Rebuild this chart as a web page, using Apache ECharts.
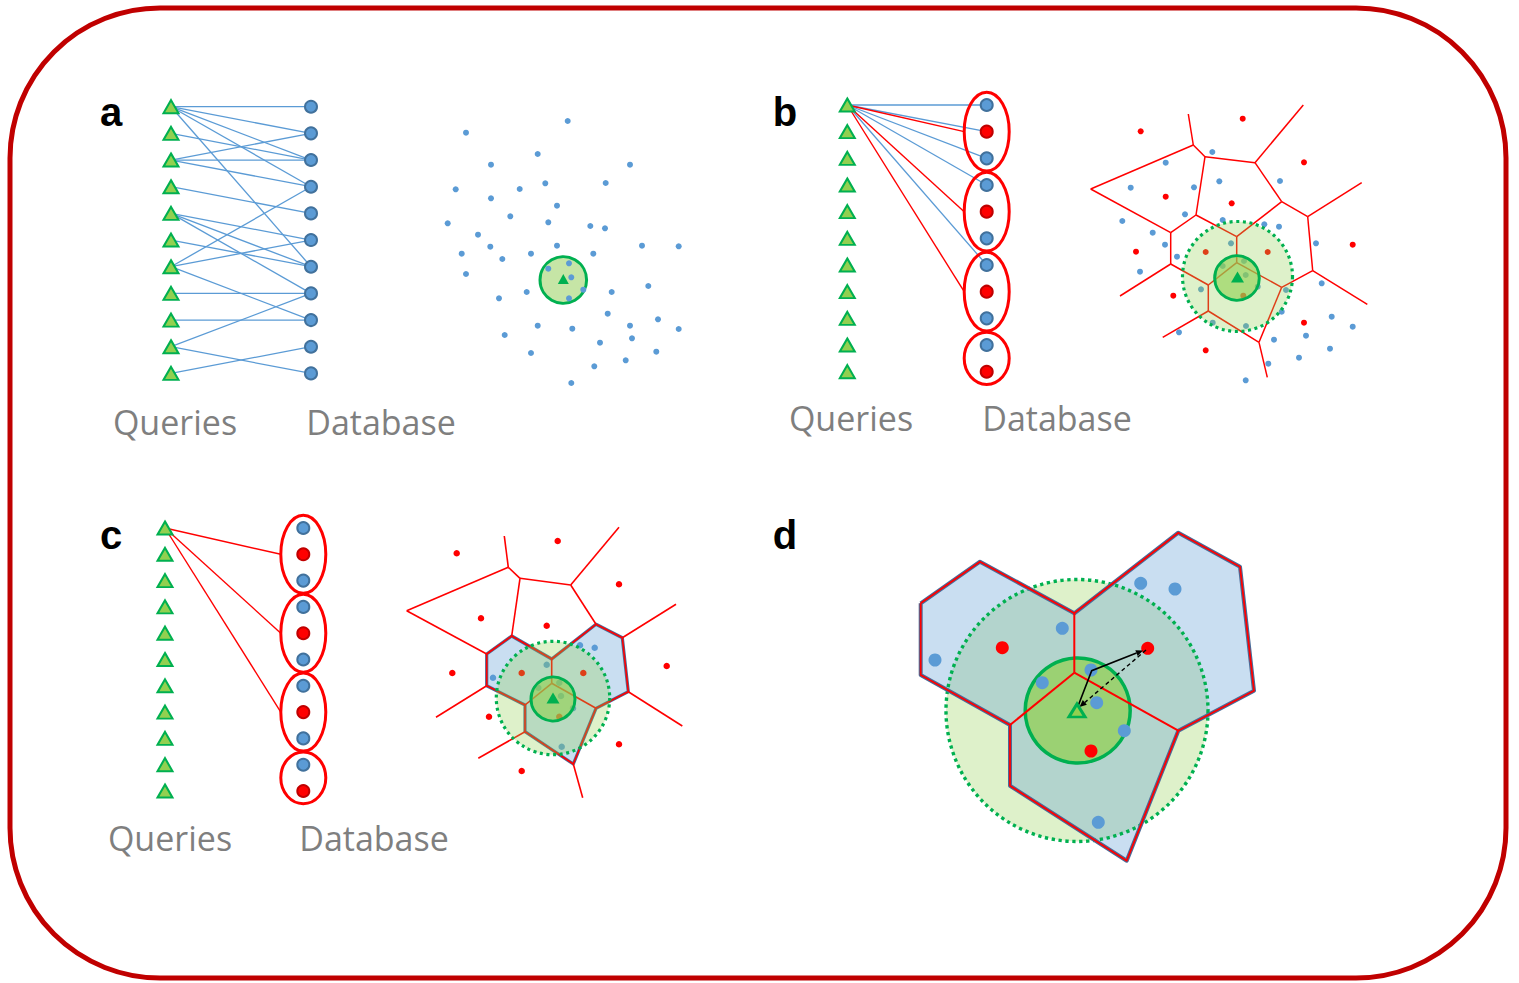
<!DOCTYPE html>
<html>
<head>
<meta charset="utf-8">
<script src="https://cdn.jsdelivr.net/npm/echarts@6/dist/echarts.min.js"></script>
<style>
  html, body { margin: 0; padding: 0; background: #ffffff; }
  #chart { width: 1519px; height: 983px; }
</style>
</head>
<body>
<div id="chart"></div>
<script>
// ---------------------------------------------------------------
// Data
// ---------------------------------------------------------------
const panelLetters = ['a', 'b', 'c', 'd'];
const columnNames = ['Queries', 'Database'];

// Panel a: each query row is linked to some database rows
const aRows = 11;
const aLinks = [[0,0],[0,1],[0,2],[0,3],[0,6],[1,2],[2,1],[2,2],[2,3],[3,4],[4,5],[4,6],[4,7],
                [5,6],[6,3],[6,5],[6,8],[7,7],[8,8],[9,7],[9,10],[10,9]];
// Panel a: database as a point cloud with one query and its search radius
const aCloud = [
  [567.7,121],[466,132.7],[537.7,154],[491,164.7],[630,164.7],[455.7,189.3],[519.7,189],[545.3,183.3],
  [605.7,183],[491,198.3],[557,205.7],[510.3,216.3],[447.7,223.3],[548.3,222.3],[590.3,226],[605,228.3],
  [478,234.7],[490.3,246.7],[557,245.7],[642,245.7],[678.7,246.3],[461.7,253.7],[502.3,259],[531,253.7],
  [593.3,253.7],[466,274],[548.3,268.7],[569,263.3],[571.3,277.3],[583.3,289.7],[569,298.3],[526.7,292],
  [499,298.3],[611.7,292],[648.3,286],[607.7,313.7],[537.7,325.7],[572.3,328.7],[630,325.7],[658,319.3],
  [678.7,329],[504.7,335],[600,342.7],[632,338.3],[531,353],[625.7,360.3],[656.3,351.7],[594.3,366.3],[571.3,383]
];
const aQuery = [563.3, 280];
const aRadius = 23.3;

// Panels b and c: database rows, 'r' = cluster representative, 'b' = member
const dbKinds = ['b','r','b','b','r','b','b','r','b','b','r'];
const dbGroups = [[0,2],[3,5],[6,8],[9,10]];
const bBlueLinks = [0,1,2,3,6];
const bGroupLinks = [0,1,2];
const cGroupLinks = [0,1,2];

// Voronoi vertices (panel b) and the shared edge topology
const bVertices = [
  [1188.3,114],[1193.3,145],[1205,156.7],[1255,162.7],[1303.3,105],[1090.7,189],[1196,215],[1170.7,232.7],
  [1236.7,236.7],[1281.7,201.7],[1307.7,216.7],[1361.7,182.7],[1170.7,264],[1120,296],[1236.7,262.7],
  [1208.3,285],[1281.7,287.3],[1312.7,270.7],[1367.3,304.3],[1208.3,311],[1162.7,337.3],[1259,342.3],[1267.3,377.3]
];
const cellEdges = [[0,1],[1,2],[1,5],[2,3],[3,4],[2,6],[3,9],[5,7],[7,6],[6,8],[8,9],[9,10],[10,11],[10,17],
                   [17,18],[17,16],[16,14],[8,14],[14,15],[15,12],[12,7],[12,13],[15,19],[19,20],[19,21],
                   [21,16],[21,22]];
const bRed = [
  [1140.7,131.3],[1242.7,118.7],[1304,162.3],[1165.7,196.7],[1231.7,203.3],[1136,251.7],[1205.7,252],
  [1267.7,252],[1352.7,244.7],[1173.3,295.7],[1243.3,295.7],[1304,322.7],[1205.7,350.3]
];
const bBlue = [
  [1212.3,152],[1165.7,162.7],[1130.7,187.7],[1194,187.3],[1219.3,181.3],[1280,181],[1122.3,221],[1152.7,232.7],
  [1185,214.3],[1222.7,220],[1264.3,224.3],[1279,226.7],[1165,244.7],[1177,256.7],[1140,271.7],[1231,243.3],
  [1222.7,266],[1244,261],[1245.7,275],[1257.7,286.7],[1201,289.3],[1286,290],[1316,243.3],[1321.7,283.3],
  [1281.7,311.7],[1212.7,322.7],[1246,326],[1179,332.3],[1274,339.7],[1331.7,316.7],[1352.7,326.7],[1306,335.7],
  [1330,348.7],[1299,357.7],[1268.3,363.7],[1245.7,380.3]
];
const bQuery = [1237.5, 278];
const bRadii = [55, 22.3];

// Panel c: same partition, three probed cells
const cVertices = [
  [504.3,536],[508.3,567.3],[520,578.3],[570.7,585],[619,527.3],[406.7,610.7],[511.7,636],[486.7,654],
  [551.7,659],[596,624.3],[622.3,637.7],[676,604.3],[486.7,685.7],[436,717.3],[551.7,683.3],[525,705],
  [596,708.3],[628.3,691.7],[682.3,726],[525,731.7],[478.3,758.3],[573.3,764],[582.7,797.7]
];
const cCells = [[7,6,8,14,15,12],[8,9,10,17,16,14],[15,14,16,21,19]];
const cBoundary = [7,6,8,9,10,17,16,21,19,15,12];
const cRed = [
  [456.7,553.3],[557.7,541],[619,584.3],[481,618.3],[546.7,625.7],[452.3,673],[521.7,673],[583.3,673],
  [666.7,666],[489,716.7],[559.3,716.7],[619,744.3],[521.7,771]
];
const cBlue = [
  [580,645.3],[594.7,647.7],[546.7,664.7],[493,677.7],[538.3,687.7],[559.3,682.7],[561,696],[573,708.3],[561.7,746.7]
];
const cQuery = [553, 699];
const cRadii = [56.7, 22];

// Panel d: close-up of the three probed cells
const dVertices = [
  [920.7,603.3],[980,561.7],[1074.3,613.3],[1074.3,672.7],[1010,725],[920.7,675],
  [1178.3,532.7],[1240,566.7],[1254,690.7],[1178.3,730.7],[1126.7,860.7],[1010,785.7]
];
const dCells = [[0,1,2,3,4,5],[2,6,7,8,9,3],[3,9,10,11,4]];
const dBoundary = [0,1,2,6,7,8,9,10,11,4,5];
const dInnerEdges = [[2,3],[3,4],[3,9]];
const dRed = [[1002.3,647.7],[1147.7,648.3],[1091,751]];
const dBlue = [
  [935,660],[1062.3,628.3],[1140.7,583.3],[1175,589],[1042.3,682.7],[1091,670],[1096.7,702.7],[1124.3,730.7],[1098.3,822.3]
];
const dQuery = [1077, 710.5];
const dRadii = [131, 52.5];
const dHopPath = [[1077.3,708],[1091.7,670.7],[1143,650.5]];
const dDirectPath = [[1146,650],[1079.5,707]];

// ---------------------------------------------------------------
// Layout and styles
// ---------------------------------------------------------------
const COLUMNS = {
  a: { qx: 171, dx: 311, y0: 106.7, dy: 26.67 },
  b: { qx: 847.3, dx: 986.7, y0: 105, dy: 26.67 },
  c: { qx: 165, dx: 303.3, y0: 528, dy: 26.3 }
};
const ELLIPSE_RX = 22.5, ELLIPSE_PAD = 12.7;
const BLUE = '#5b9bd5', BLUE_EDGE = '#41719c', RED = '#ff0000', RED_EDGE = '#c00000';
const GREEN = '#00b050', LIGHT_GREEN = '#92d050';
const OUTER_FILL = 'rgba(146,208,80,0.30)';
const INNER_FILL = 'rgba(146,208,80,0.62)';
const CELL_FILL = 'rgba(91,155,213,0.33)';

// ---------------------------------------------------------------
// Helpers
// ---------------------------------------------------------------
const rowY = (col, i) => col.y0 + i * col.dy;
const queryPts = (col, n) => Array.from({ length: n }, (_, i) => [col.qx, rowY(col, i)]);
const dbPts = (col, n) => Array.from({ length: n }, (_, i) => [col.dx, rowY(col, i)]);
const groupCenter = (col, g) => [col.dx, (rowY(col, g[0]) + rowY(col, g[1])) / 2];

function custom(z, data, build) {
  return {
    type: 'custom', coordinateSystem: 'cartesian2d', silent: true, clip: false, z,
    animation: false, data, renderItem: (params, api) => build(params.dataIndex, api)
  };
}
function segments(z, segs, style) {
  const data = segs.map(s => [s[0][0], s[0][1], s[1][0], s[1][1]]);
  const s = custom(z, data, (i, api) => {
    const p = api.coord([api.value(0), api.value(1)]);
    const q = api.coord([api.value(2), api.value(3)]);
    return { type: 'line', shape: { x1: p[0], y1: p[1], x2: q[0], y2: q[1] }, style: Object.assign({ fill: null }, style) };
  });
  s.dimensions = ['x1', 'y1', 'x2', 'y2'];
  s.encode = { x: [0, 2], y: [1, 3] };
  return s;
}
function ring(z, pts, style) {
  const closed = pts.concat([pts[0]]);
  return custom(z, [closed[0].slice()], (i, api) => ({
    type: 'polyline', shape: { points: closed.map(p => api.coord(p)) }, style: Object.assign({ fill: null }, style)
  }));
}
function polygons(z, polys, style) {
  const centroids = polys.map(p => [p.reduce((s, v) => s + v[0], 0) / p.length, p.reduce((s, v) => s + v[1], 0) / p.length]);
  return custom(z, centroids, (i, api) => ({
    type: 'polygon', shape: { points: polys[i].map(p => api.coord(p)) }, style: Object.assign({}, style)
  }));
}
function circles(z, list, style) {
  const s = custom(z, list, (i, api) => {
    const c = api.coord([api.value(0), api.value(1)]);
    const r = api.size([api.value(2), api.value(2)])[0];
    return { type: 'circle', shape: { cx: c[0], cy: c[1], r }, style: Object.assign({}, style) };
  });
  s.dimensions = ['x', 'y', 'r'];
  s.encode = { x: 0, y: 1 };
  return s;
}
function ellipses(z, col, groups, style) {
  const data = groups.map(g => {
    const c = groupCenter(col, g);
    return [c[0], c[1], (rowY(col, g[1]) - rowY(col, g[0])) / 2 + ELLIPSE_PAD];
  });
  const s = custom(z, data, (i, api) => {
    const c = api.coord([api.value(0), api.value(1)]);
    const ry = api.size([0, api.value(2)])[1];
    const rx = api.size([ELLIPSE_RX, 0])[0];
    return { type: 'ellipse', shape: { cx: c[0], cy: c[1], rx, ry }, style: Object.assign({ fill: null }, style) };
  });
  s.dimensions = ['x', 'y', 'ry'];
  s.encode = { x: 0, y: 1 };
  return s;
}
function arrow(z, path, style, head) {
  return custom(z, [path[0].slice()], (i, api) => {
    const pts = path.map(p => api.coord(p));
    const t = pts[pts.length - 1], f = pts[pts.length - 2];
    const len = Math.hypot(t[0] - f[0], t[1] - f[1]);
    const ux = (t[0] - f[0]) / len, uy = (t[1] - f[1]) / len;
    const bx = t[0] - ux * head, by = t[1] - uy * head, w = head * 0.45;
    const shaft = pts.slice(0, -1).concat([[bx, by]]);
    return {
      type: 'group', children: [
        { type: 'polyline', shape: { points: shaft }, style: Object.assign({ fill: null }, style) },
        { type: 'polygon', shape: { points: [t, [bx - uy * w, by + ux * w], [bx + uy * w, by - ux * w]] },
          style: { fill: style.stroke } }
      ]
    };
  });
}
function dots(z, pts, size, color, border, bw) {
  return {
    type: 'scatter', coordinateSystem: 'cartesian2d', silent: true, z, animation: false,
    symbol: 'circle', symbolSize: size, data: pts,
    itemStyle: { color, opacity: 1, borderColor: border || color, borderWidth: bw || 0 }
  };
}
function triangles(z, pts, size, fill, border, bw) {
  return {
    type: 'scatter', coordinateSystem: 'cartesian2d', silent: true, z, animation: false,
    symbol: 'triangle', symbolSize: size, data: pts,
    itemStyle: { color: fill, opacity: 1, borderColor: border, borderWidth: bw }
  };
}
function dbColumn(z, col, kinds) {
  const pts = dbPts(col, kinds.length);
  return [
    dots(z, pts.filter((p, i) => kinds[i] === 'b'), 12, BLUE, BLUE_EDGE, 2),
    dots(z, pts.filter((p, i) => kinds[i] === 'r'), 12, RED, RED_EDGE, 2)
  ];
}
const cellSegs = (verts, edges) => edges.map(e => [verts[e[0]], verts[e[1]]]);

// ---------------------------------------------------------------
// Series
// ---------------------------------------------------------------
const series = [];
const Q_SIZE = [15, 13];

// panel a: bipartite links
{
  const col = COLUMNS.a, qs = queryPts(col, aRows), ds = dbPts(col, aRows);
  series.push(segments(2, aLinks.map(l => [qs[l[0]], ds[l[1]]]), { stroke: BLUE, lineWidth: 1.3 }));
  series.push(triangles(4, qs, Q_SIZE, LIGHT_GREEN, GREEN, 2));
  series.push(dots(4, ds, 12, BLUE, BLUE_EDGE, 2));
  // point cloud
  series.push(circles(2, [[aQuery[0], aQuery[1], aRadius]], { fill: '#c6e5a6', stroke: GREEN, lineWidth: 3 }));
  series.push(dots(3, aCloud, 6, BLUE));
  series.push(triangles(4, [[aQuery[0], aQuery[1] - 1]], [11, 10], GREEN, GREEN, 0));
}

// panel b: links to members and to cluster groups
{
  const col = COLUMNS.b, qs = queryPts(col, dbKinds.length), ds = dbPts(col, dbKinds.length);
  series.push(segments(2, bBlueLinks.map(i => [qs[0], ds[i]]), { stroke: BLUE, lineWidth: 1.3 }));
  series.push(segments(2, bGroupLinks.map(g => {
    const c = groupCenter(col, dbGroups[g]);
    return [qs[0], [c[0] - ELLIPSE_RX, c[1]]];
  }), { stroke: RED, lineWidth: 1.4 }));
  series.push(ellipses(3, col, dbGroups, { stroke: RED, lineWidth: 3 }));
  series.push(...dbColumn(4, col, dbKinds));
  series.push(triangles(4, qs, Q_SIZE, LIGHT_GREEN, GREEN, 2));
  // partition
  series.push(segments(2, cellSegs(bVertices, cellEdges), { stroke: RED, lineWidth: 1.5 }));
  series.push(dots(3, bRed, 6, RED));
  series.push(dots(3, bBlue, 6, BLUE));
  series.push(circles(5, [[bQuery[0], bQuery[1] - 1.5, bRadii[0]]], { fill: OUTER_FILL, stroke: null }));
  series.push(circles(6, [[bQuery[0], bQuery[1] - 1.5, bRadii[0]]], { fill: null, stroke: GREEN, lineWidth: 3.2, lineDash: [3, 3.6] }));
  series.push(circles(6, [[bQuery[0] - 0.5, bQuery[1], bRadii[1]]], { fill: INNER_FILL, stroke: GREEN, lineWidth: 3 }));
  series.push(triangles(7, [[bQuery[0], bQuery[1] - 1]], [13, 11], GREEN, GREEN, 0));
}

// panel c: links to cluster groups only
{
  const col = COLUMNS.c, qs = queryPts(col, dbKinds.length);
  series.push(segments(2, cGroupLinks.map(g => {
    const c = groupCenter(col, dbGroups[g]);
    return [qs[0], [c[0] - ELLIPSE_RX, c[1]]];
  }), { stroke: RED, lineWidth: 1.4 }));
  series.push(ellipses(3, col, dbGroups, { stroke: RED, lineWidth: 3 }));
  series.push(...dbColumn(4, col, dbKinds));
  series.push(triangles(4, qs, Q_SIZE, LIGHT_GREEN, GREEN, 2));
  // partition with probed cells
  series.push(polygons(1, cCells.map(c => c.map(i => cVertices[i])), { fill: CELL_FILL, stroke: null }));
  series.push(ring(2, cBoundary.map(i => cVertices[i]), { stroke: '#4a6c99', lineWidth: 3.2, lineJoin: 'round' }));
  series.push(segments(2, cellSegs(cVertices, cellEdges), { stroke: RED, lineWidth: 1.6 }));
  series.push(dots(3, cRed, 6.5, RED));
  series.push(dots(3, cBlue, 6.5, BLUE));
  series.push(circles(5, [[cQuery[0], cQuery[1] - 1, cRadii[0]]], { fill: OUTER_FILL, stroke: null }));
  series.push(circles(6, [[cQuery[0], cQuery[1] - 1, cRadii[0]]], { fill: null, stroke: GREEN, lineWidth: 3.2, lineDash: [3, 3.6] }));
  series.push(circles(6, [[cQuery[0], cQuery[1], cRadii[1]]], { fill: INNER_FILL, stroke: GREEN, lineWidth: 3 }));
  series.push(triangles(7, [[cQuery[0], cQuery[1] - 1]], [13, 11], GREEN, GREEN, 0));
}

// panel d: close-up
{
  series.push(circles(1, [[dQuery[0], dQuery[1], dRadii[0]]], { fill: OUTER_FILL, stroke: null }));
  series.push(polygons(2, dCells.map(c => c.map(i => dVertices[i])), { fill: CELL_FILL, stroke: null }));
  series.push(circles(3, [[dQuery[0] + 0.7, dQuery[1], dRadii[1]]], { fill: 'rgba(146,208,80,0.72)', stroke: GREEN, lineWidth: 3.5 }));
  series.push(circles(3, [[dQuery[0], dQuery[1], dRadii[0]]], { fill: null, stroke: GREEN, lineWidth: 3.4, lineDash: [3.3, 3.6] }));
  series.push(ring(4, dBoundary.map(i => dVertices[i]), { stroke: '#4a6c99', lineWidth: 4, lineJoin: 'round' }));
  series.push(ring(5, dBoundary.map(i => dVertices[i]), { stroke: RED, lineWidth: 1.8, lineJoin: 'round' }));
  series.push(segments(5, cellSegs(dVertices, dInnerEdges), { stroke: RED, lineWidth: 2 }));
  series.push(dots(6, dRed, 13, RED));
  series.push(dots(6, dBlue, 13, BLUE));
  series.push(arrow(7, dHopPath, { stroke: '#000000', lineWidth: 1.6 }, 7));
  series.push(arrow(7, dDirectPath, { stroke: '#000000', lineWidth: 1.4, lineDash: [4, 3] }, 7));
  series.push(triangles(8, [[dQuery[0], dQuery[1]]], [16, 13], LIGHT_GREEN, GREEN, 3));
}

// ---------------------------------------------------------------
// Text
// ---------------------------------------------------------------
const letterFont = 'bold 40px "Liberation Sans", Arial, sans-serif';
const nameFont = '34px "Open Sans", "Noto Sans", sans-serif';
const letterPos = [[111, 112], [785, 112], [111, 535], [785, 535]];
const namePos = [
  [[175, 422], [381, 422]],
  [[851, 418], [1057, 418]],
  [[170, 838], [374, 838]]
];
const graphic = [{
  type: 'rect', silent: true, z: 0,
  shape: { x: 10, y: 8, width: 1496, height: 970, r: 150 },
  style: { fill: null, stroke: '#c00000', lineWidth: 5 }
}];
panelLetters.forEach((t, i) => graphic.push({
  type: 'text', x: letterPos[i][0], y: letterPos[i][1], silent: true, z: 10,
  style: { text: t, font: letterFont, fill: '#000000', align: 'center', verticalAlign: 'middle' }
}));
namePos.forEach(pair => pair.forEach((p, j) => graphic.push({
  type: 'text', x: p[0], y: p[1], silent: true, z: 10,
  style: { text: columnNames[j], font: nameFont, fill: '#7f7f7f', align: 'center', verticalAlign: 'middle' }
})));

// ---------------------------------------------------------------
// Chart
// ---------------------------------------------------------------
const chart = echarts.init(document.getElementById('chart'), null, { renderer: 'svg' });
chart.setOption({
  animation: false,
  backgroundColor: '#ffffff',
  grid: { left: 0, right: 0, top: 0, bottom: 0 },
  xAxis: { type: 'value', min: 0, max: 1519, show: false },
  yAxis: { type: 'value', min: 0, max: 983, inverse: true, show: false },
  graphic,
  series
});
</script>
</body>
</html>
